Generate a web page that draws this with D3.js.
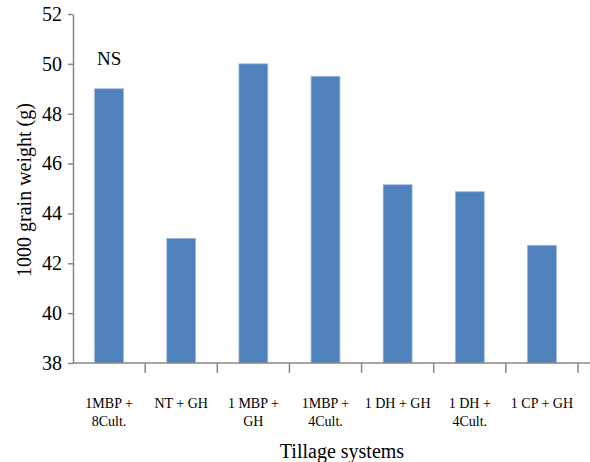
<!DOCTYPE html>
<html>
<head>
<meta charset="utf-8">
<script src="https://cdn.jsdelivr.net/npm/d3@7"></script>
<style>
body { margin: 0; background: #fff; }
text { font-family: "Liberation Serif", "Times New Roman", serif; fill: #000; }
</style>
</head>
<body>
<script>
var w = 590, h = 462;

// data
var categories = ["1MBP + 8Cult.", "NT + GH", "1 MBP + GH", "1MBP + 4Cult.", "1 DH + GH", "1 DH + 4Cult.", "1 CP + GH"];
var labelLines = [["1MBP +", "8Cult."], ["NT + GH"], ["1 MBP +", "GH"], ["1MBP +", "4Cult."], ["1 DH + GH"], ["1 DH +", "4Cult."], ["1 CP + GH"]];
var values = [49.0, 43.0, 50.0, 49.5, 45.15, 44.87, 42.72];
var yTicks = [38, 40, 42, 44, 46, 48, 50, 52];

var mLeft = 73, mRight = 578, mTop = 14, mBottom = 363;

var svg = d3.select("body").append("svg")
	.attr("width", w)
	.attr("height", h)

var x = d3.scaleBand()
	.domain(categories)
	.range([mLeft, mRight])
	.paddingInner(0.6)
	.paddingOuter(0.3)

var y = d3.scaleLinear()
	.domain([38, 52])
	.range([mBottom, mTop])

// bars
svg.append("g").selectAll("rect")
	.data(values)
	.enter()
	.append("rect")
	.attr("x", function(d, i) { return x(categories[i]); })
	.attr("y", function(d) { return y(d); })
	.attr("width", x.bandwidth())
	.attr("height", function(d) { return mBottom - y(d); })
	.style("fill", "#4f81bd")
	.style("stroke", "#9bb7dd")
	.style("stroke-width", 0.8)

// y axis
var yAxis = svg.append("g")
	.attr("transform", "translate(" + mLeft + ",0)")
	.call(d3.axisLeft(y).tickValues(yTicks).tickSize(5).tickSizeOuter(0).tickPadding(6))
yAxis.selectAll("path, line").style("stroke", "#888").style("stroke-width", 1.5)
yAxis.selectAll("text").style("font-size", "20px").style("font-family", "Liberation Serif")

// x axis
var xAxis = svg.append("g")
	.attr("transform", "translate(0," + mBottom + ")")
xAxis.append("line")
	.attr("x1", mLeft).attr("x2", w)
	.attr("y1", 0).attr("y2", 0)
	.style("stroke", "#888").style("stroke-width", 1.5)
var bounds = categories.map(function(c) { return x(c) - x.step() * x.paddingInner() / 2; });
bounds.push(mRight);
xAxis.selectAll("line.tick")
	.data(bounds.slice(1))
	.enter()
	.append("line")
	.attr("class", "tick")
	.attr("x1", function(d) { return d; }).attr("x2", function(d) { return d; })
	.attr("y1", 0).attr("y2", 10)
	.style("stroke", "#888").style("stroke-width", 1.5)

// category labels
var lab = svg.append("g").selectAll("text")
	.data(labelLines)
	.enter()
	.append("text")
	.attr("text-anchor", "middle")
	.style("font-size", "14px")
lab.each(function(lines, i) {
	var t = d3.select(this);
	var cx = x(categories[i]) + x.bandwidth() / 2;
	lines.forEach(function(s, j) {
		t.append("tspan").attr("x", cx).attr("y", 408 + j * 18).text(s);
	});
})

// axis titles
svg.append("text")
	.attr("x", 342).attr("y", 458)
	.attr("text-anchor", "middle")
	.style("font-size", "20px")
	.text("Tillage systems")

svg.append("text")
	.attr("transform", "translate(31,190) rotate(-90)")
	.attr("text-anchor", "middle")
	.style("font-size", "20px")
	.text("1000 grain weight (g)")

svg.append("text")
	.attr("x", x(categories[0]) + x.bandwidth() / 2).attr("y", 65)
	.attr("text-anchor", "middle")
	.style("font-size", "19px")
	.text("NS")
</script>
</body>
</html>
